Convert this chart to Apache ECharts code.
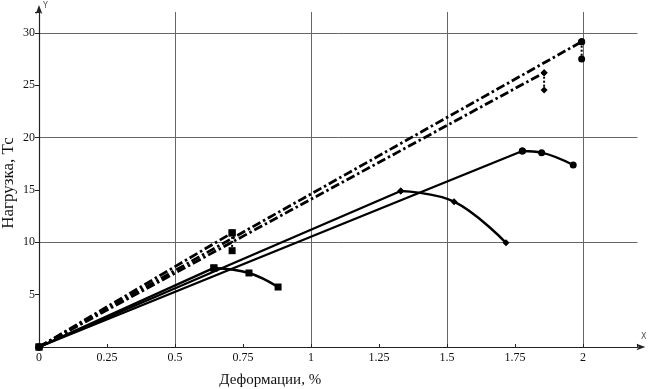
<!DOCTYPE html>
<html><head><meta charset="utf-8">
<script src="https://cdn.jsdelivr.net/npm/echarts@6/dist/echarts.min.js"></script>
<style>html,body{margin:0;padding:0;background:#fff}#c{width:651px;height:389px}</style>
</head><body><div id="c"></div>
<script>
const xTicks = [0, 0.25, 0.5, 0.75, 1, 1.25, 1.5, 1.75, 2];
const yTicks = [5, 10, 15, 20, 25, 30];
// solid lines: straight rise from origin to peak, then smooth fall
const squareRise = [[0, 0], [0.643, 7.55]];
const squareFall = [[0.643, 7.55], [0.772, 7.07], [0.879, 5.73]];
const diamondRise = [[0, 0], [1.33, 14.9]];
const diamondFall = [[1.33, 14.9], [1.526, 13.88], [1.717, 9.95]];
const circleRise = [[0, 0], [1.777, 18.72]];
const circleFall = [[1.777, 18.72], [1.848, 18.56], [1.964, 17.38]];
// dash-dot lines and dotted drops
const squareDashDot = [[0, 0], [0.71, 10.9]];
const squareDrop = [[0.71, 10.9], [0.71, 9.2]];
const diamondDashDot = [[0, 0], [1.857, 26.2]];
const diamondDrop = [[1.857, 26.2], [1.857, 24.55]];
const circleDashDot = [[0, 0], [1.995, 29.16]];
const circleDrop = [[1.995, 29.16], [1.995, 27.5]];

const font = '"Liberation Serif", "DejaVu Serif", serif';
const chart = echarts.init(document.getElementById('c'), null, {renderer: 'canvas'});
const X0 = 39, XMAX = 2.2, YMAX = 32;
function ser(data, opt) {
  return Object.assign({
    type: 'line', data: data, xAxisIndex: 0, yAxisIndex: 0,
    lineStyle: {color: '#000', width: 2.4}, itemStyle: {color: '#000'},
    symbol: 'none', animation: false, z: 5
  }, opt);
}
const dashDot = [9, 3, 2.5, 3];
const series = [
  ser(squareRise, {symbol: 'rect', symbolSize: 7}),
  ser(squareFall, {symbol: 'rect', symbolSize: 7, smooth: 0.4}),
  ser(diamondRise, {symbol: 'diamond', symbolSize: 7}),
  ser(diamondFall, {symbol: 'diamond', symbolSize: 7, smooth: 0.4}),
  ser(circleRise, {symbol: 'circle', symbolSize: 7}),
  ser(circleFall, {symbol: 'circle', symbolSize: 7, smooth: 0.4}),
  ser(squareDashDot, {symbol: 'rect', symbolSize: 7, lineStyle: {color: '#000', width: 2.8, type: dashDot}}),
  ser(squareDrop, {symbol: 'rect', symbolSize: 7, lineStyle: {color: '#000', width: 2, type: [2, 2]}}),
  ser(diamondDashDot, {symbol: 'diamond', symbolSize: 7, lineStyle: {color: '#000', width: 2.8, type: dashDot}}),
  ser(diamondDrop, {symbol: 'diamond', symbolSize: 7, lineStyle: {color: '#000', width: 2, type: [2, 2]}}),
  ser(circleDashDot, {symbol: 'circle', symbolSize: 7, lineStyle: {color: '#000', width: 2.8, type: dashDot}}),
  ser(circleDrop, {symbol: 'circle', symbolSize: 7, lineStyle: {color: '#000', width: 2, type: [2, 2]}})
];
const G = '#666', T = 'rgba(0,0,0,0)';
chart.setOption({
  backgroundColor: '#fff',
  animation: false,
  grid: {left: X0, right: 651 - (X0 + XMAX * 272), top: 347 - YMAX * 10.47, bottom: 42, containLabel: false, outerBoundsMode: 'none'},
  xAxis: [
    {type: 'value', min: 0, max: XMAX, interval: 0.25,
     axisLine: {show: true, onZero: false, lineStyle: {color: '#222', width: 1.2}, symbol: ['none', 'arrow'], symbolSize: [5, 9], symbolOffset: [0, 8]},
     axisTick: {show: true, inside: true, length: 3, lineStyle: {color: '#222'}},
     axisLabel: {show: true, margin: 5, color: '#111', fontFamily: font, fontSize: 12,
       formatter: v => xTicks.includes(+v.toFixed(2)) ? String(+v.toFixed(2)) : ''},
     splitLine: {show: false},
     name: 'Деформации, %', nameLocation: 'middle', nameGap: 26,
     nameTextStyle: {fontFamily: font, fontSize: 15, color: '#111', padding: [0, 136, 0, 0]}},
    {type: 'value', min: 0, max: XMAX, interval: 0.5, position: 'bottom',
     axisLine: {show: false}, axisTick: {show: false}, axisLabel: {show: false},
     splitLine: {show: true, lineStyle: {color: [G, G, G, G, G, T], width: 1}}}
  ],
  yAxis: [
    {type: 'value', min: 0, max: YMAX, interval: 5,
     axisLine: {show: true, onZero: false, lineStyle: {color: '#222', width: 1.2}, symbol: ['none', 'arrow'], symbolSize: [5, 9], symbolOffset: [0, 7]},
     axisTick: {show: true, length: 4, lineStyle: {color: '#222'}},
     axisLabel: {show: true, margin: 4, color: '#111', fontFamily: font, fontSize: 12,
       formatter: v => yTicks.includes(v) ? String(v) : ''},
     splitLine: {show: false}},
    {type: 'value', min: 0, max: YMAX, interval: 10,
     axisLine: {show: false}, axisTick: {show: false}, axisLabel: {show: false},
     splitLine: {show: true, lineStyle: {color: [G, G, G, G, T], width: 1}}}
  ],
  graphic: [
    {type: 'text', x: 9, y: 183, rotation: Math.PI / 2,
     style: {text: 'Нагрузка, Тс', fontSize: 17, fill: '#111', fontFamily: font, align: 'center', verticalAlign: 'middle'}},
    {type: 'text', left: 43, top: 2, style: {text: 'Y', fontSize: 8, fill: '#555', fontFamily: 'DejaVu Sans'}},
    {type: 'text', left: 641, top: 333, style: {text: 'X', fontSize: 8, fill: '#555', fontFamily: 'DejaVu Sans'}}
  ],
  series: series
});
</script></body></html>
